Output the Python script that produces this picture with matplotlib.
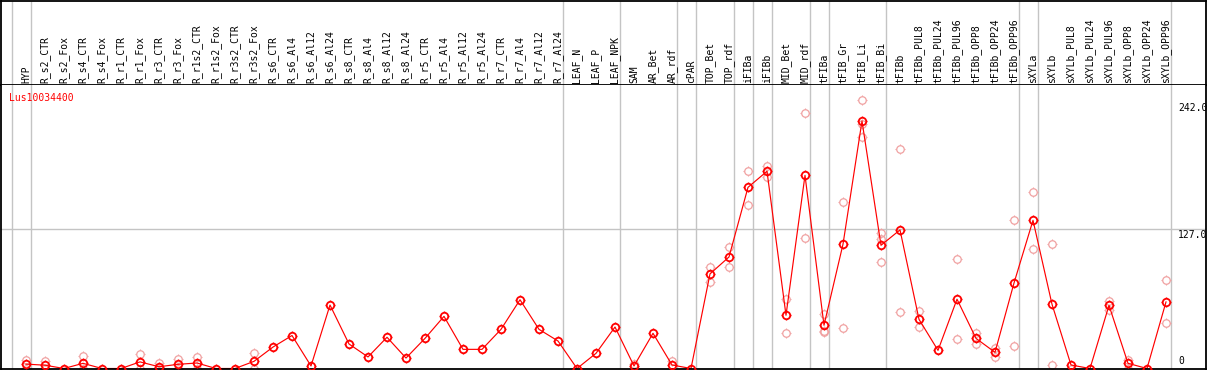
import numpy as np
import matplotlib
matplotlib.use("Agg")
import matplotlib.pyplot as plt
from matplotlib.path import Path

samples = ["HYP", "R_s2_CTR", "R_s2_Fox", "R_s4_CTR", "R_s4_Fox", "R_r1_CTR", "R_r1_Fox",
           "R_r3_CTR", "R_r3_Fox", "R_r1s2_CTR", "R_r1s2_Fox", "R_r3s2_CTR", "R_r3s2_Fox",
           "R_s6_CTR", "R_s6_Al4", "R_s6_Al12", "R_s6_Al24", "R_s8_CTR", "R_s8_Al4",
           "R_s8_Al12", "R_s8_Al24", "R_r5_CTR", "R_r5_Al4", "R_r5_Al12", "R_r5_Al24",
           "R_r7_CTR", "R_r7_Al4", "R_r7_Al12", "R_r7_Al24", "LEAF_N", "LEAF_P", "LEAF_NPK",
           "SAM", "AR_Bet", "AR_rdf", "cPAR", "TOP_Bet", "TOP_rdf", "iFIBa", "iFIBb",
           "MID_Bet", "MID_rdf", "tFIBa", "tFIB_Gr", "tFIB_Li", "tFIB_Bi", "tFIBb",
           "tFIBb_PUL8", "tFIBb_PUL24", "tFIBb_PUL96", "tFIBb_OPP8", "tFIBb_OPP24",
           "tFIBb_OPP96", "sXYLa", "sXYLb", "sXYLb_PUL8", "sXYLb_PUL24", "sXYLb_PUL96",
           "sXYLb_OPP8", "sXYLb_OPP24", "sXYLb_OPP96"]

means = [4, 3, 0, 4.7, 0, 0, 6, 1.6, 3.8, 5, 0, 0, 6.5,
         19.5, 30, 2.3, 57.7, 22.3, 10.5, 28.4, 9.5, 27.4, 47.4, 17.4, 17.4,
         35.6, 62.5, 35.6, 25, 0, 13.8, 37.7,
         2.3, 32, 3.2, 0, 86, 101.4, 164.7, 179.3,
         48.4, 175.6, 39.3, 113, 225, 112, 126,
         44.7, 16.5, 63, 27.4, 14.7, 77.7,
         134.7, 58.4, 3.2, 0, 57.4, 4.7, 0, 60.5]

reps = [[8, 0], [7, 0], [], [11, 0], [], [], [13, 0],
        [5, 0], [9, 0], [10.5, 0], [], [], [14, 0],
        [], [], [], [], [], [], [], [], [], [], [], [],
        [], [], [], [], [], [], [],
        [4], [], [6.8], [], [92, 78.6], [110.5, 92], [180, 148.4], [184, 174],
        [63.5, 32], [232, 118.4], [49.5, 33.2, 34.5], [151, 36.5], [244, 210.7, 222], [123, 96.8, 118], [200, 51],
        [52, 38], [], [100, 26.5], [32, 22], [19, 10.8], [135, 20.5],
        [160.7, 108.4], [113, 3.2], [0], [], [61.6, 53], [7.7, 0], [], [80.5, 41]]

# last sample index of each group (separator drawn right after it)
group_ends = [-1, 0, 28, 31, 34, 35, 37, 38, 39, 41, 42, 45, 52, 53, 60]
ytick_vals = [242.0, 127.0]

# four short ticks around the circle markers
tick_v = [(0, 1), (0, 1.45), (0, -1), (0, -1.45), (1, 0), (1.45, 0), (-1, 0), (-1.45, 0)]
ticks = Path(tick_v, [Path.MOVETO, Path.LINETO] * 4)

W, H = 1209, 370
fig = plt.figure(figsize=(W / 100, H / 100), dpi=100)
mono = "DejaVu Sans Mono"

x0, x1 = 1, 1206
top_px, mid_px, bot_px = 0.5, 85, 368.5
hdr = fig.add_axes([x0 / W, 1 - mid_px / H, (x1 - x0) / W, (mid_px - top_px) / H])
ax = fig.add_axes([x0 / W, 1 - bot_px / H, (x1 - x0) / W, (bot_px - mid_px) / H])

xlim = ((x0 - 26) / 19, (x1 - 26) / 19)
for a in (hdr, ax):
    a.set_xlim(*xlim)
    a.set_xticks([])
    a.set_yticks([])
    for s in a.spines.values():
        s.set_color("black")
        s.set_linewidth(1.3)
    for g in group_ends:
        a.axvline(g + 0.25, color="#c4c4c4", lw=1, zorder=0)
ax.spines["top"].set_visible(False)

hdr.set_ylim(0, 1)
for i, name in enumerate(samples):
    hdr.text(i, 0.02, name, rotation=90, ha="center", va="bottom",
             fontsize=7, family=mono, color="black")

ymax = (bot_px - mid_px) / 1.1
ax.set_ylim(0, ymax)
ax.axhline(127, color="#c4c4c4", lw=1, zorder=0)

xs = np.arange(len(samples))
rx = [i for i, r in enumerate(reps) for _ in r]
ry = [v for r in reps for v in r]

ms_c = 5.4
ms_t = ms_c * 1.45
ax.plot(rx, ry, ls="none", marker=ticks, ms=ms_t, mec="#f0a0a0", mew=0.8, zorder=1)
ax.plot(rx, ry, ls="none", marker="o", ms=ms_c, mfc="none", mec="#f0a0a0", mew=0.9, zorder=1)

ax.plot(xs, means, color="red", lw=0.85, zorder=2)
ax.plot(xs, means, ls="none", marker=ticks, ms=ms_t, mec="red", mew=1.0, zorder=3)
ax.plot(xs, means, ls="none", marker="o", ms=ms_c, mfc="none", mec="red", mew=1.3, zorder=3)

xt = (1178 - 26) / 19
for v in ytick_vals:
    ax.annotate("%.1f" % v, xy=(xt, v), xytext=(0, -1), textcoords="offset pixels",
                ha="left", va="top", fontsize=7, family=mono, annotation_clip=False)
ax.annotate("0", xy=(xt, 0), xytext=(0, 2), textcoords="offset pixels",
            ha="left", va="bottom", fontsize=7, family=mono)

ax.annotate("Lus10034400", xy=(0, 1), xycoords="axes fraction", xytext=(8, -8),
            textcoords="offset pixels", ha="left", va="top", fontsize=7, family=mono, color="red")

fig.savefig("out.png", dpi=100)
